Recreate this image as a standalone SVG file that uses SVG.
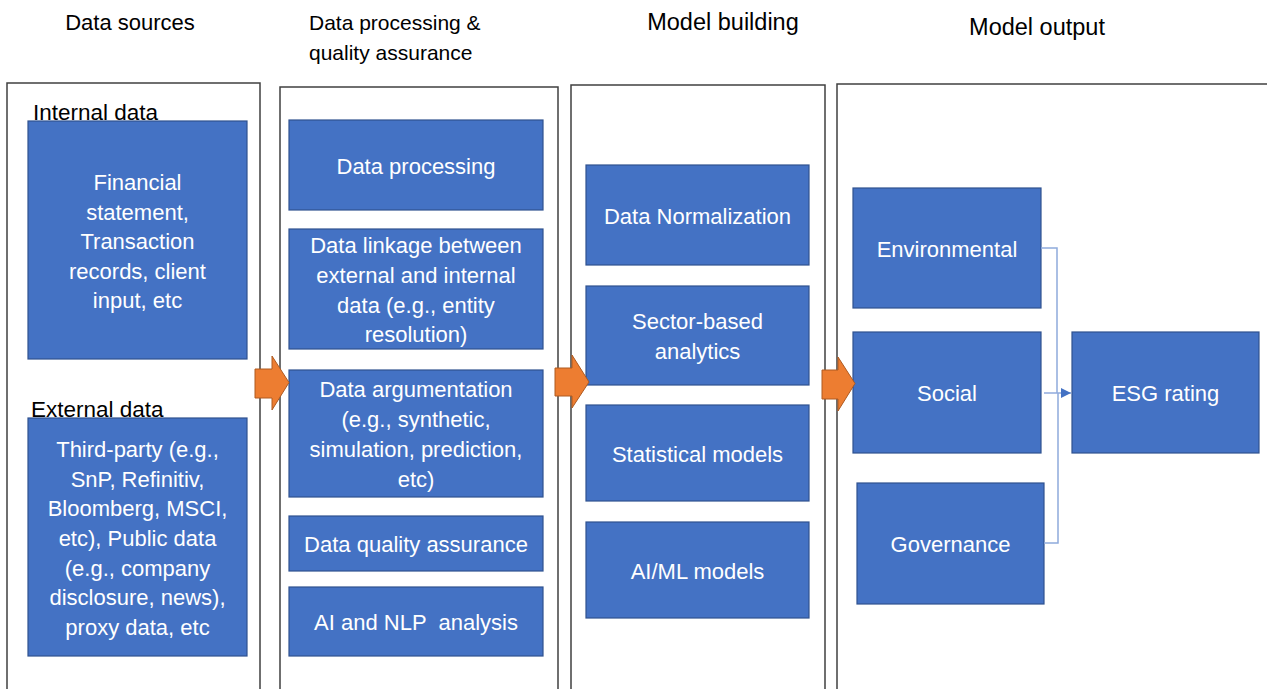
<svg xmlns="http://www.w3.org/2000/svg" width="1267" height="689" viewBox="0 0 1267 689">
<style>
text{font-family:"Liberation Sans",Arial,sans-serif;}
.h{font-size:22px;fill:#000;}
.l{font-size:22.5px;fill:#000;}
.b{fill:#4472c4;stroke:#2f528f;stroke-width:1.2;}
.t{font-size:22px;fill:#fff;text-anchor:middle;}
.f{fill:none;stroke:#404040;stroke-width:1.5;}
.ar{fill:#ed7d31;stroke:#ae5a21;stroke-width:1;}
.c{fill:none;stroke:#8faadc;stroke-width:1.5;}
</style>
<defs>
<marker id="ah" viewBox="0 0 10 10" refX="10" refY="5" markerWidth="10" markerHeight="10" markerUnits="userSpaceOnUse" orient="auto">
<path d="M0,0 L10,5 L0,10 Z" fill="#4472c4"/>
</marker>
</defs>
<rect width="1267" height="689" fill="#fff"/>
<g id="headers">
<text class="h" x="130" y="30" text-anchor="middle">Data sources</text>
<text class="h" x="309" y="30" style="font-size:21px">Data processing &amp;</text>
<text class="h" x="309" y="60" style="font-size:21px">quality assurance</text>
<text class="h" x="723" y="30" text-anchor="middle" style="font-size:23.5px">Model building</text>
<text class="h" x="1037" y="35" text-anchor="middle" style="font-size:23.5px">Model output</text>
</g>
<g id="frames">
<path class="f" d="M7,695 V83 H260 V695"/>
<path class="f" d="M280,695 V87 H558 V695"/>
<path class="f" d="M571,695 V85 H825 V695"/>
<path class="f" d="M837,695 V84 H1275"/>
</g>
<g id="labels">
<text class="l" x="33" y="120">Internal data</text>
<text class="l" x="31" y="417">External data</text>
</g>
<g id="internal">
<rect class="b" x="28" y="121" width="219" height="238"/>
<text class="t" x="137.5" y="190">Financial</text>
<text class="t" x="137.5" y="220">statement,</text>
<text class="t" x="137.5" y="249">Transaction</text>
<text class="t" x="137.5" y="279">records, client</text>
<text class="t" x="137.5" y="308">input, etc</text>
</g>
<g id="external">
<rect class="b" x="28" y="418" width="219" height="238"/>
<text class="t" x="137.5" y="457">Third-party (e.g.,</text>
<text class="t" x="137.5" y="487">SnP, Refinitiv,</text>
<text class="t" x="137.5" y="516">Bloomberg, MSCI,</text>
<text class="t" x="137.5" y="546">etc), Public data</text>
<text class="t" x="137.5" y="576">(e.g., company</text>
<text class="t" x="137.5" y="605">disclosure, news),</text>
<text class="t" x="137.5" y="635">proxy data, etc</text>
</g>
<g id="data-processing">
<rect class="b" x="289" y="120" width="254" height="90"/>
<text class="t" x="416" y="174">Data processing</text>
</g>
<g id="data-linkage">
<rect class="b" x="289" y="229" width="254" height="120"/>
<text class="t" x="416" y="253">Data linkage between</text>
<text class="t" x="416" y="283">external and internal</text>
<text class="t" x="416" y="313">data (e.g., entity</text>
<text class="t" x="416" y="342">resolution)</text>
</g>
<g id="data-argumentation">
<rect class="b" x="289" y="370" width="254" height="127"/>
<text class="t" x="416" y="397">Data argumentation</text>
<text class="t" x="416" y="427">(e.g., synthetic,</text>
<text class="t" x="416" y="457">simulation, prediction,</text>
<text class="t" x="416" y="487">etc)</text>
</g>
<g id="data-quality">
<rect class="b" x="289" y="516" width="254" height="55"/>
<text class="t" x="416" y="552">Data quality assurance</text>
</g>
<g id="ai-nlp">
<rect class="b" x="289" y="587" width="254" height="69"/>
<text class="t" x="416" y="630" style="white-space:pre">AI and NLP  analysis</text>
</g>
<g id="normalization">
<rect class="b" x="586" y="165" width="223" height="100"/>
<text class="t" x="697.5" y="224">Data Normalization</text>
</g>
<g id="sector">
<rect class="b" x="586" y="286" width="223" height="99"/>
<text class="t" x="697.5" y="329">Sector-based</text>
<text class="t" x="697.5" y="359">analytics</text>
</g>
<g id="statistical">
<rect class="b" x="586" y="405" width="223" height="96"/>
<text class="t" x="697.5" y="462">Statistical models</text>
</g>
<g id="aiml">
<rect class="b" x="586" y="522" width="223" height="96"/>
<text class="t" x="697.5" y="579">AI/ML models</text>
</g>
<g id="environmental">
<rect class="b" x="853" y="188" width="188" height="120"/>
<text class="t" x="947" y="257">Environmental</text>
</g>
<g id="social">
<rect class="b" x="853" y="332" width="188" height="121"/>
<text class="t" x="947" y="401">Social</text>
</g>
<g id="governance">
<rect class="b" x="857" y="483" width="187" height="121"/>
<text class="t" x="950.5" y="552">Governance</text>
</g>
<g id="esg-rating">
<rect class="b" x="1072" y="332" width="187" height="121"/>
<text class="t" x="1165.5" y="401">ESG rating</text>
</g>
<g id="connectors">
<path class="ar" d="M255,369 H272 V356 L289,382.5 L272,410 V398 H255 Z"/>
<path class="ar" d="M555,368 H572 V355 L589,382 L572,408 V396 H555 Z"/>
<path class="ar" d="M822,370 H838 V357 L855,383.5 L838,411 V399 H822 Z"/>
<path class="c" d="M1041,248 H1057 V393"/>
<path class="c" d="M1044,543 H1058 V393"/>
<path class="c" d="M1044,393 H1071" marker-end="url(#ah)"/>
</g>
</svg>
